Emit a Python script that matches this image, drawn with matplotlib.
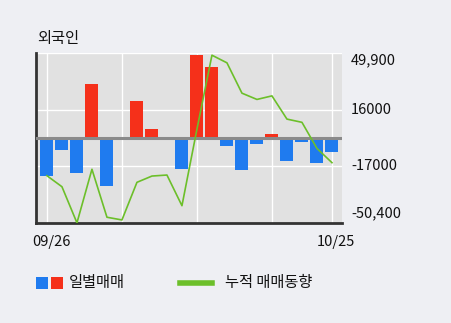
import matplotlib
matplotlib.use("Agg")
import matplotlib.pyplot as plt
from matplotlib.patches import Rectangle
from matplotlib.lines import Line2D
from matplotlib.transforms import blended_transform_factory, offset_copy

plt.rcParams['font.family'] = ['Noto Sans CJK KR', 'DejaVu Sans']

title = "외국인"
daily = [-22500, -7200, -20700, 31500, -28400, -1000, 21500, 5000, 0, -18400,
         48600, 41500, -4800, -19000, -3600, 2100, -13700, -2500, -14800, -8400]
cumulative = [-22500, -29000, -50300, -18700, -47000, -48600, -26400, -22700, -22100, -40200,
              5000, 48600, 44100, 26200, 22500, 24600, 10900, 9000, -6400, -14800]
ytick_vals = [49900, 16000, -17000, -50400]
ytick_labels = ["49,900", "16000", "-17000", "-50,400"]
xtick_pos = [0, 19]
xtick_labels = ["09/26", "10/25"]
legend_labels = ["일별매매", "누적 매매동향"]

BLUE = "#1f7bef"
RED = "#f5301a"
GREEN = "#6cbf2a"
BG = "#eeeff3"
PLOT_BG = "#e1e1e1"
TXT = "#111111"

fig = plt.figure(figsize=(4.51, 3.23), dpi=100, facecolor=BG)
ax = fig.add_axes([36/451, 1-223/323, (342-36)/451, (223-53)/323])
ax.set_facecolor(PLOT_BG)

x = list(range(len(daily)))
colors = [RED if v > 0 else BLUE for v in daily]
ax.bar(x, daily, width=0.87, color=colors, zorder=3)
ax.axhline(0, color="#8a8a8a", lw=2.2, zorder=4)
ax.plot(x, cumulative, color=GREEN, lw=1.2, zorder=5)

ax.set_xlim(-0.73, 19.67)
ax.set_ylim(-50400, 49900)

for gx in [0, 5, 10, 15, 19]:
    ax.axvline(gx, color="white", lw=1, zorder=1)
for gy in [16000, -17000, 49900]:
    ax.axhline(gy, color="white", lw=1, zorder=1)

ax.set_xticks([])
ax.set_yticks([])

# y labels on right (end labels pulled inward as in reference)
tr_y = blended_transform_factory(ax.transAxes, ax.transData)
va_map = {0: ("top", 0), 1: ("center", 0), 2: ("center", 0), 3: ("bottom", 3)}
for i, (v, lab) in enumerate(zip(ytick_vals, ytick_labels)):
    va, dy = va_map[i]
    t = offset_copy(tr_y, fig=fig, x=9, y=dy, units="dots")
    ax.text(1, v, lab, transform=t, ha="left", va=va, fontsize=10.5, color=TXT)

# x labels
tr_x = blended_transform_factory(ax.transData, ax.transAxes)
for p, lab in zip(xtick_pos, xtick_labels):
    t = offset_copy(tr_x, fig=fig, x=4, y=-12, units="dots")
    ax.text(p, 0, lab, transform=t, ha="center", va="top", fontsize=10.5, color=TXT)

for s in ["top", "right"]:
    ax.spines[s].set_visible(False)
ax.spines["left"].set_color("#333333")
ax.spines["left"].set_linewidth(2)
ax.spines["bottom"].set_color("#333333")
ax.spines["bottom"].set_linewidth(2)

fig.text(37/451, 1-38/323, title, fontsize=11, va="center", ha="left", color=TXT)

# legend
fig.patches.append(Rectangle((36/451, 1-289/323), 12/451, 12/323, transform=fig.transFigure,
                             facecolor=BLUE, edgecolor="none"))
fig.patches.append(Rectangle((51/451, 1-289/323), 12/451, 12/323, transform=fig.transFigure,
                             facecolor=RED, edgecolor="none"))
fig.text(69/451, 1-283/323, legend_labels[0], fontsize=11, va="center", ha="left", color=TXT)
fig.lines.append(Line2D([180/451, 212/451], [1-283/323, 1-283/323], transform=fig.transFigure,
                        color=GREEN, lw=4))
fig.text(225/451, 1-283/323, legend_labels[1], fontsize=11, va="center", ha="left", color=TXT)

fig.savefig("out.png", dpi=100, facecolor=BG)
